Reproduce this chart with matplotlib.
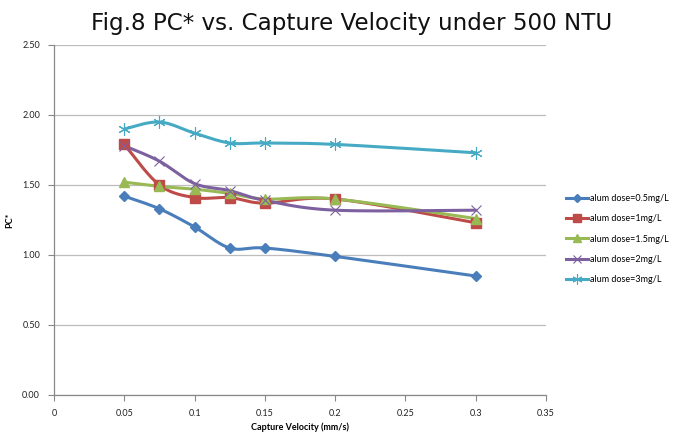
import numpy as np
import matplotlib
matplotlib.use("Agg")
import matplotlib.pyplot as plt

velocity = [0.05, 0.075, 0.1, 0.125, 0.15, 0.2, 0.3]
pc_05 = [1.42, 1.33, 1.20, 1.05, 1.05, 0.99, 0.85]
pc_1 = [1.79, 1.50, 1.41, 1.41, 1.37, 1.40, 1.23]
pc_15 = [1.52, 1.49, 1.47, 1.44, 1.40, 1.40, 1.26]
pc_2 = [1.78, 1.67, 1.51, 1.46, 1.39, 1.32, 1.32]
pc_3 = [1.90, 1.95, 1.87, 1.80, 1.80, 1.79, 1.73]
labels = ["alum dose=0.5mg/L", "alum dose=1mg/L", "alum dose=1.5mg/L",
          "alum dose=2mg/L", "alum dose=3mg/L"]

colors = ["#4A7EBB", "#BE4B48", "#98B954", "#7D60A0", "#46AAC5"]
markers = ["D", "s", "^", "x", (6, 2, 0)]
msizes = [5, 6.5, 6.5, 7, 9]
mews = [1.0, 1.0, 1.0, 0.8, 0.8]

fig = plt.figure(figsize=(6.81, 4.34), dpi=100)
ax = fig.add_axes([54 / 681, 1 - 395 / 434, 492 / 681, 350 / 434])
ax.set_xlim(0, 0.35)
ax.set_ylim(0, 2.5)

# scale factors so the smoothing happens in display-like space
sx = 492 / 0.35
sy = 350 / 2.5


def smooth(xs, ys, n=30):
    px = np.asarray(xs) * sx
    py = np.asarray(ys) * sy
    pts = np.column_stack([px, py])
    pts = np.vstack([pts[0], pts, pts[-1]])
    out = []
    for i in range(1, len(pts) - 2):
        p0, p1, p2, p3 = pts[i - 1], pts[i], pts[i + 1], pts[i + 2]
        c1 = p1 + (p2 - p0) / 6.0
        c2 = p2 - (p3 - p1) / 6.0
        t = np.linspace(0, 1, n)[:, None]
        seg = ((1 - t) ** 3) * p1 + 3 * ((1 - t) ** 2) * t * c1 + 3 * (1 - t) * t ** 2 * c2 + t ** 3 * p2
        out.append(seg if i == 1 else seg[1:])
    out = np.vstack(out)
    return out[:, 0] / sx, out[:, 1] / sy


series = [pc_05, pc_1, pc_15, pc_2, pc_3]
for ys, c, m, ms, mw, lab in zip(series, colors, markers, msizes, mews, labels):
    xs_s, ys_s = smooth(velocity, ys)
    ax.plot(xs_s, ys_s, color=c, lw=2.2, solid_capstyle="round", zorder=3)
    ax.plot(velocity, ys, linestyle="none", marker=m, color=c, ms=ms,
            mew=mw, zorder=4)
    ax.plot([], [], color=c, lw=2.2, marker=m, ms=ms * 0.8, mew=mw, label=lab)

tick_font = "Lato"
ax.set_yticks(np.arange(0, 2.51, 0.5))
ax.set_yticklabels([f"{v:.2f}" for v in np.arange(0, 2.51, 0.5)],
                   fontsize=6.5, family=tick_font, color="#222222")
xt = [0, 0.05, 0.1, 0.15, 0.2, 0.25, 0.3, 0.35]
ax.set_xticks(xt)
ax.set_xticklabels(["0", "0.05", "0.1", "0.15", "0.2", "0.25", "0.3", "0.35"],
                   fontsize=6.5, family=tick_font, color="#222222")
ax.tick_params(axis="both", length=4, width=0.8, color="#888888", pad=6)
ax.grid(axis="y", color="#BDBDBD", lw=0.9)
ax.set_axisbelow(True)
for s in ["top", "right"]:
    ax.spines[s].set_visible(False)
for s in ["left", "bottom"]:
    ax.spines[s].set_color("#888888")
    ax.spines[s].set_linewidth(0.9)

ax.set_xlabel("Capture Velocity (mm/s)", fontsize=6.5, fontweight="bold",
              family=tick_font, labelpad=3)
ax.set_ylabel("PC*", fontsize=6.5, fontweight="bold", family=tick_font,
              labelpad=6)

fig.text(351.5 / 681, 1 - 30 / 434,
         "Fig.8 PC* vs. Capture Velocity under 500 NTU",
         ha="center", va="baseline", fontsize=16.6, family="DejaVu Sans",
         color="#111111")

leg = ax.legend(loc="center left", bbox_to_anchor=(558 / 681, 1 - 239 / 434),
                bbox_transform=fig.transFigure, frameon=False,
                prop={"family": tick_font, "size": 6.5},
                handlelength=2.4, handletextpad=0.2, labelspacing=1.25)

fig.savefig("out.png", dpi=100)
